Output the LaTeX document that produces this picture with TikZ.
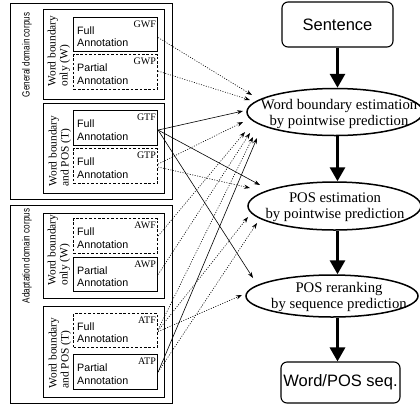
\documentclass[tikz,border=0pt]{standalone}
\usepackage{fontspec}
\setmainfont{Liberation Serif}
\setsansfont{Liberation Sans}
\usetikzlibrary{arrows.meta,shapes.geometric,calc}
\begin{document}
\begin{tikzpicture}[x=1pt,y=-1pt,
  corpusbox/.style={draw,line width=1.4pt,inner sep=0pt,anchor=north west},
  subbox/.style={draw,line width=1.4pt,inner sep=0pt,anchor=north west,minimum width=121},
  fullann/.style={draw,line width=1.1pt,inner sep=0pt,anchor=north west,minimum width=84},
  partann/.style={fullann,dash pattern=on 2.6pt off 1.8pt},
  anntext/.style={font=\sffamily\fontsize{10.7}{12.3}\selectfont,align=left,inner sep=0pt,anchor=west},
  codetext/.style={font=\fontsize{10}{11}\selectfont,inner sep=0pt,anchor=north east},
  vlabel/.style={font=\fontsize{11.4}{12}\selectfont,align=left,inner sep=0pt,rotate=90},
  clabel/.style={font=\sffamily\fontsize{10.4}{11}\selectfont,inner sep=0pt,rotate=90},
  procell/.style={draw,ellipse,line width=1.5pt,inner sep=0pt},
  proctext/.style={font=\fontsize{14.7}{16}\selectfont,align=center,inner sep=0pt},
  iobox/.style={draw,rounded corners=6pt,line width=1.1pt,inner sep=0pt,font=\sffamily\fontsize{16.5}{18}\selectfont},
  flow/.style={line width=3pt,-{Triangle[length=14pt,width=15pt]}},
  feed/.style={line width=0.6pt,-{Stealth[length=6pt,width=4.2pt]}},
  feeddot/.style={feed,dash pattern=on 1pt off 1.5pt}
]
\useasboundingbox (0,0) rectangle (420,408);

% corpora
\node[corpusbox,minimum width=162,minimum height=196] (gen) at (10,3) {};
\node[corpusbox,minimum width=162,minimum height=198] (ada) at (10,205) {};
\node[clabel] (genl) at (27,55) {\scalebox{0.78}[1]{General domain corpus}};
\node[clabel] (adal) at (27,256) {\scalebox{0.78}[1]{Adaptation domain corpus}};

\node[subbox,minimum height=90] (gw) at (43,9) {};
\node[subbox,minimum height=90] (gt) at (43,103) {};
\node[subbox,minimum height=85] (aw) at (43,213) {};
\node[subbox,minimum height=91] (at) at (43,306) {};
\node[vlabel] (gwl) at (59,51) {Word boundary\\only (W)};
\node[vlabel] (gtl) at (60,151) {Word boundary\\and POS (T)};
\node[vlabel] (awl) at (59,250) {Word boundary\\only (W)};
\node[vlabel] (atl) at (60,353) {Word boundary\\and POS (T)};

% annotation boxes
\node[fullann,minimum height=34] (gwf) at (73,17) {};
\node[partann,minimum height=35] (gwp) at (73,54) {};
\node[fullann,minimum height=35] (gtf) at (73,110) {};
\node[partann,minimum height=35] (gtp) at (73,148) {};
\node[partann,minimum height=35] (awf) at (73,218) {};
\node[fullann,minimum height=34] (awp) at (73,257) {};
\node[partann,minimum height=34] (atf) at (73,313) {};
\node[fullann,minimum height=35] (atp) at (73,354) {};

\foreach \b/\t/\c in {gwf/Full/GWF,gwp/Partial/GWP,gtf/Full/GTF,gtp/Full/GTP,awf/Full/AWF,awp/Partial/AWP,atf/Full/ATF,atp/Partial/ATP}{
  \node[anntext] (\b t) at ($(\b.west)+(4,2)$) {\t\\Annotation};
  \node[codetext] (\b c) at ($(\b.north east)+(-2,3.5)$) {\c};
}

% process chain
\node[iobox,minimum width=111,minimum height=45] (sent) at (337.5,24.5) {Sentence};
\node[procell,minimum width=176,minimum height=47] (e1) at (335,112) {};
\node[proctext] (e1t) at (339,114) {Word boundary estimation\\by pointwise prediction};
\node[procell,minimum width=173,minimum height=48] (e2) at (334.5,206) {};
\node[proctext] (e2t) at (335,207) {POS estimation\\by pointwise prediction};
\node[procell,minimum width=172,minimum height=42] (e3) at (332,296) {};
\node[proctext] (e3t) at (339,297) {POS reranking\\by sequence prediction};
\node[iobox,minimum width=119,minimum height=41] (out) at (340.5,382.5) {Word/POS seq.};

\draw[flow] (sent.south) -- (sent.south |- e1.north);
\draw[flow] (sent.south |- e1.south) -- (sent.south |- e2.north);
\draw[flow] (sent.south |- e2.south) -- (sent.south |- e3.north);
\draw[flow] (sent.south |- e3.south) -- (sent.south |- out.north);

% arrow end points near the estimators
\coordinate (a1) at (252,95);
\coordinate (a2) at (250,100);
\coordinate (a3) at (243,111);
\coordinate (a4) at (243,122);
\coordinate (a5) at (245,132);
\coordinate (a6) at (250,133);
\coordinate (a7) at (253,137);
\coordinate (a8) at (257,138);
\coordinate (b1) at (260,185);
\coordinate (b2) at (250,188);
\coordinate (b3) at (248,217);
\coordinate (b4) at (257,223);
\coordinate (c1) at (253,278);
\coordinate (c2) at (242,295);

\draw[feeddot] ($(gwf.east)+(0,3)$) -- (a1);
\draw[feeddot] ($(gwp.east)+(0,-1)$) -- (a2);
\draw[feed] ($(gtf.east)+(0,2)$) -- (a3);
\draw[feeddot] ($(gtp.east)+(0,-2)$) -- (a4);
\draw[feeddot] (awf.east) -- (a5);
\draw[feeddot] (awp.east) -- (a6);
\draw[feeddot] ($(atf.east)+(0,-1)$) -- (a7);
\draw[feed] (atp.east) -- (a8);

\draw[feed] ($(gtf.east)+(0,2)$) -- (b1);
\draw[feeddot] ($(gtp.east)+(0,1)$) -- (b2);
\draw[feeddot] (atf.east) -- (b3);
\draw[feeddot] (atp.east) -- (b4);

\draw[feed] ($(gtf.east)+(0,2)$) -- (c1);
\draw[feeddot] ($(atf.east)+(0,1)$) -- (c2);
\end{tikzpicture}
\end{document}
